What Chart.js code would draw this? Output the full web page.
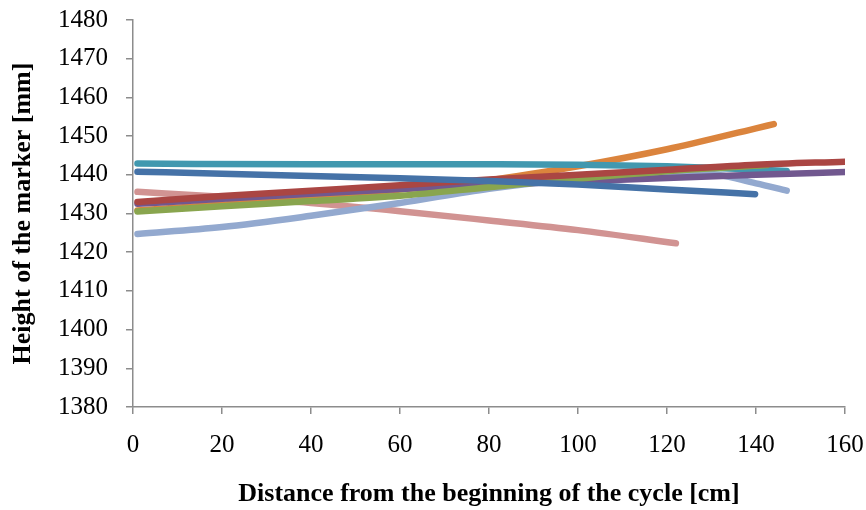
<!DOCTYPE html>
<html>
<head>
<meta charset="utf-8">
<script src="https://cdn.jsdelivr.net/npm/chart.js@4.4.1/dist/chart.umd.min.js"></script>
<style>
  html, body { margin: 0; padding: 0; background: #ffffff; }
  #wrap { width: 866px; height: 510px; position: relative; }
</style>
</head>
<body>
<div id="wrap"><canvas id="c" width="866" height="510"></canvas></div>
<script>
// ---- Data ----
const xTicks = [0, 20, 40, 60, 80, 100, 120, 140, 160];
const yTicks = [1380, 1390, 1400, 1410, 1420, 1430, 1440, 1450, 1460, 1470, 1480];

const blueX = [1, 20, 40, 60, 80, 100, 120, 139.8];
const blueY = [1440.8, 1440.3, 1439.7, 1439.1, 1438.4, 1437.5, 1436.2, 1435.0];

const redX = [1, 20, 40, 60, 80, 100, 120, 140, 160];
const redY = [1433.0, 1434.5, 1435.9, 1437.3, 1438.8, 1440.0, 1441.3, 1442.6, 1443.4];

const greenX = [1, 20, 40, 60, 80, 100, 120, 142.4];
const greenY = [1430.5, 1431.9, 1433.2, 1434.6, 1436.8, 1439.0, 1440.9, 1442.5];

const purpleX = [1, 20, 40, 60, 80, 100, 120, 140, 160];
const purpleY = [1432.5, 1433.8, 1435.1, 1436.3, 1437.4, 1438.3, 1439.2, 1440.0, 1440.7];

const tealX = [1, 40, 80, 100, 120, 140, 146.9];
const tealY = [1442.9, 1442.7, 1442.7, 1442.6, 1442.2, 1441.4, 1441.0];

const orangeX = [1, 20, 40, 60, 80, 100, 120, 140, 144];
const orangeY = [1430.8, 1432.3, 1434.0, 1436.2, 1438.6, 1442.2, 1446.6, 1452.0, 1453.1];

const lightBlueX = [1, 20, 40, 60, 80, 100, 115, 128, 140, 146.9];
const lightBlueY = [1424.7, 1426.5, 1429.4, 1432.7, 1436.4, 1439.0, 1440.2, 1440.4, 1437.8, 1435.9];

const pinkX = [1, 20, 40, 60, 80, 100, 122];
const pinkY = [1435.6, 1434.3, 1432.7, 1430.6, 1428.2, 1425.7, 1422.3];

const seriesNames = ['S1', 'S2', 'S3', 'S4', 'S5', 'S6', 'S7', 'S8'];
const seriesColors = ['#4572A7', '#AA4643', '#89A54E', '#71588F', '#4198AF', '#DB843D', '#93A9CF', '#D19392'];
const seriesXs = [blueX, redX, greenX, purpleX, tealX, orangeX, lightBlueX, pinkX];
const seriesYs = [blueY, redY, greenY, purpleY, tealY, orangeY, lightBlueY, pinkY];

// ---- Chart ----
const datasets = seriesXs.map((xs, i) => ({
  label: seriesNames[i],
  data: xs.map((x, j) => ({ x: x, y: seriesYs[i][j] })),
  borderColor: seriesColors[i],
  backgroundColor: seriesColors[i],
  borderWidth: 6.5,
  borderCapStyle: 'round',
  borderJoinStyle: 'round',
  pointRadius: 0,
  pointHoverRadius: 0,
  cubicInterpolationMode: 'monotone',
  fill: false
}));

const axisColor = '#8c8c8c';
const tickFont = { family: "'Liberation Serif', 'Times New Roman', serif", size: 25 };
const titleFont = { family: "'Liberation Serif', 'Times New Roman', serif", size: 26, weight: 'bold' };

new Chart(document.getElementById('c'), {
  type: 'line',
  data: { datasets: datasets },
  options: {
    responsive: false,
    animation: false,
    devicePixelRatio: 1,
    layout: { padding: { top: 20, right: 21, left: 0, bottom: 0 } },
    plugins: {
      legend: { display: false },
      tooltip: { enabled: false },
      title: { display: false }
    },
    scales: {
      x: {
        type: 'linear',
        min: xTicks[0],
        max: xTicks[xTicks.length - 1],
        afterBuildTicks: (scale) => { scale.ticks = xTicks.map(v => ({ value: v })); },
        afterFit: (scale) => { scale.height = 103; scale.paddingLeft = 0; scale.paddingRight = 0; },
        grid: { display: true, drawOnChartArea: false, drawTicks: true, tickLength: 7, color: axisColor, lineWidth: 1.5 },
        border: { display: true, color: axisColor, width: 1.5 },
        ticks: { color: '#000000', font: tickFont, padding: 16, maxRotation: 0, autoSkip: false, callback: (v) => String(v) },
        title: { display: true, text: 'Distance from the beginning of the cycle [cm]', color: '#000000', font: titleFont, padding: { top: 0, bottom: 0 } }
      },
      y: {
        type: 'linear',
        min: yTicks[0],
        max: yTicks[yTicks.length - 1],
        afterBuildTicks: (scale) => { scale.ticks = yTicks.map(v => ({ value: v })); },
        afterFit: (scale) => { scale.width = 133; scale.paddingTop = 0; scale.paddingBottom = 0; },
        grid: { display: true, drawOnChartArea: false, drawTicks: true, tickLength: 7, color: axisColor, lineWidth: 1.5 },
        border: { display: true, color: axisColor, width: 1.5 },
        ticks: { color: '#000000', font: tickFont, padding: 18, autoSkip: false, callback: (v) => String(v) },
        title: { display: true, text: 'Height of the marker [mm]', color: '#000000', font: titleFont, padding: { top: 8, bottom: 0 } }
      }
    }
  }
});
</script>
</body>
</html>
